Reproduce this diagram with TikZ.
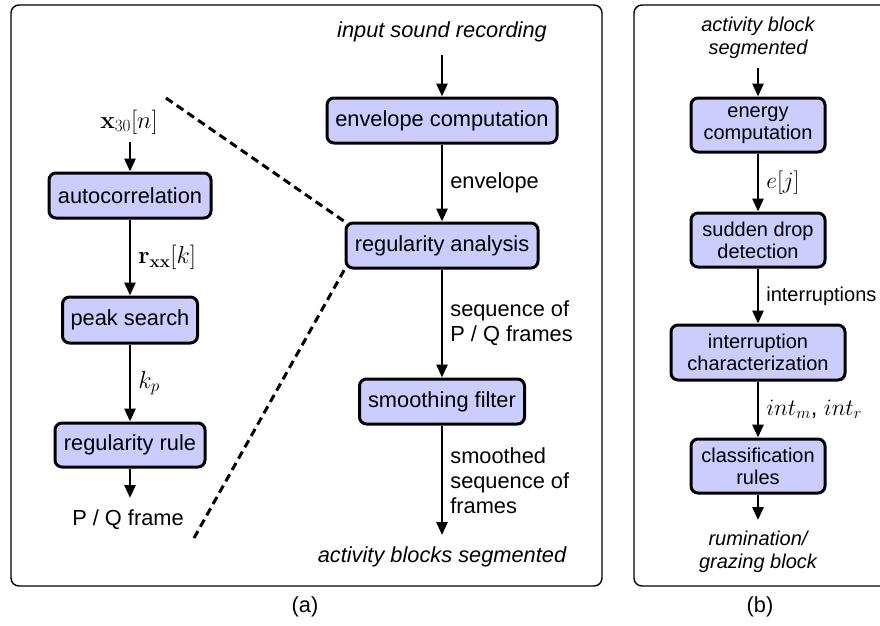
\RequirePackage{fix-cm}
\documentclass[tikz,border=0pt]{standalone}
\usepackage[no-math]{fontspec}
\setmainfont{Liberation Sans}
\usetikzlibrary{arrows.meta}
\definecolor{boxfill}{RGB}{204,204,255}
\begin{document}
\begin{tikzpicture}[x=1pt,y=-1pt,
 font=\fontsize{21.8}{25}\selectfont,
 blk/.style={draw, line width=3pt, fill=boxfill, rounded corners=7pt, inner sep=0pt, align=center, font=\fontsize{21.8}{22}\selectfont},
 blkb/.style={blk, font=\fontsize{20}{22}\selectfont},
 arr/.style={line width=2.7pt, -{Triangle[length=13pt,width=11pt]}},
 lbl/.style={right, inner sep=0pt, xshift=7pt, align=left},
 lblb/.style={lbl, font=\fontsize{20}{23}\selectfont},
 mtha/.style={font=\fontsize{24.5}{26}\selectfont},
 mthb/.style={lbl, font=\fontsize{23.5}{26}\selectfont},
 frm/.style={line width=1.4pt, rounded corners=8pt},
 txt/.style={inner sep=0pt, align=center},
 itx/.style={font=\fontsize{21.8}{23}\selectfont\itshape},
 itxb/.style={font=\fontsize{20}{23}\selectfont\itshape},
 dsh/.style={line width=3pt, dash pattern=on 8pt off 5pt}]
\useasboundingbox (0,0) rectangle (880,625);
\draw[frm] (11,5) rectangle (602,586);
\draw[frm] (634,5) rectangle (895,586);
\node[txt] (la) at (305,607) {(a)};
\node[txt] (lb) at (760,607) {(b)};
% panel a, right column
\node[txt,itx] (in) at (442,32) {input sound recording};
\coordinate (inA) at (442,55);
\node[blk,minimum width=230pt,minimum height=45pt] (env) at (442,120.5) {envelope computation};
\node[blk,minimum width=192pt,minimum height=45pt] (reg) at (442,245.5) {regularity analysis};
\node[blk,minimum width=165pt,minimum height=45pt] (smo) at (442,401.5) {smoothing filter};
\coordinate (outA) at (442,535);
\node[txt,itx] (out) at (442,557) {activity blocks segmented};
\draw[arr] (inA) -- (env);
\draw[arr] (env) -- node[lbl]{envelope} (reg);
\draw[arr] (reg) -- node[lbl]{sequence of\\P / Q frames} (smo);
\draw[arr] (smo) -- node[lbl]{smoothed\\sequence of\\frames} (outA);
% panel a, left column
\node[txt,mtha] (x30) at (129,122) {$\mathbf{x}_{30}[n]$};
\coordinate (x30A) at (130,142);
\node[blk,minimum width=162pt,minimum height=45pt] (ac) at (130,195.5) {autocorrelation};
\node[blk,minimum width=135pt,minimum height=46pt] (pk) at (130,320) {peak search};
\node[blk,minimum width=150pt,minimum height=44pt] (rr) at (130,445) {regularity rule};
\coordinate (rrA) at (130,498);
\node[txt] (pq) at (128,520) {P / Q frame};
\draw[arr] (x30A) -- (ac);
\draw[arr] (ac) -- node[lbl,mtha]{$\mathbf{r}_{\mathbf{xx}}[k]$} (pk);
\draw[arr] (pk) -- node[lbl,mtha]{$k_p$} (rr);
\draw[arr] (rr) -- (rrA);
% dashed zoom lines
\coordinate (d1) at (166,98);
\coordinate (d2) at (194,538);
\draw[dsh] (d1) -- (reg.north west);
\draw[dsh] (d2) -- (reg.south west);
% panel b
\node[txt,itxb] (ab) at (758,37.5) {activity block\\segmented};
\coordinate (abA) at (758,68);
\node[blkb,minimum width=134pt,minimum height=54pt] (en) at (758,125) {energy\\computation};
\node[blkb,minimum width=134pt,minimum height=54pt] (sd) at (758,240) {sudden drop\\detection};
\node[blkb,minimum width=174pt,minimum height=55pt] (ic) at (758,352.5) {interruption\\characterization};
\node[blkb,minimum width=134pt,minimum height=54pt] (cr) at (758,466) {classification\\rules};
\coordinate (crA) at (758,520);
\node[txt,itxb] (rg) at (758,551.5) {rumination/\\grazing block};
\draw[arr] (abA) -- (en);
\draw[arr] (en) -- node[mthb]{$e[j]$} (sd);
\draw[arr] (sd) -- node[lblb]{interruptions} (ic);
\draw[arr] (ic) -- node[mthb]{$int_m$, $int_r$} (cr);
\draw[arr] (cr) -- (crA);
\end{tikzpicture}
\end{document}
